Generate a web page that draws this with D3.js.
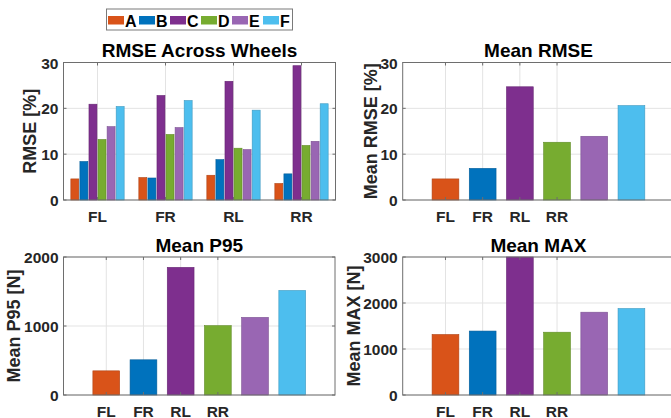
<!DOCTYPE html>
<html lang="en">
<head>
    <meta charset="UTF-8">
    <title>RMSE / P95 / MAX per wheel</title>
    <style>
        body { margin: 0; background: #fff; }
        svg { display: block; font-family: "Liberation Sans", Arial, sans-serif; font-weight: bold; }
        .tick-label { font-size: 15.5px; fill: #262626; }
        .x-label { font-size: 15.5px; fill: #262626; text-anchor: middle; }
        .axis-title { font-size: 18px; fill: #262626; text-anchor: middle; }
        .chart-title { font-size: 19px; fill: #000; text-anchor: middle; }
        .grid line { stroke: #e3e3e3; stroke-width: 1px; }
        .frame { fill: none; stroke: #6e6e6e; stroke-width: 1px; }
    </style>
</head>
<body>
    <svg id="chart" width="671" height="418"></svg>

    <script src="https://d3js.org/d3.v7.min.js"></script>
    <script>
        // --- Data ---
        const series = ["A", "B", "C", "D", "E", "F"];
        const seriesColors = ["#D95319", "#0072BD", "#7E2F8E", "#77AC30", "#9966B3", "#4DBEEE"];
        const wheels = ["FL", "FR", "RL", "RR"];

        // RMSE [%] per wheel, one value per series A..F
        const rmseFL = [4.6, 8.4, 20.9, 13.2, 16.0, 20.4];
        const rmseFR = [4.9, 4.8, 22.8, 14.3, 15.8, 21.7];
        const rmseRL = [5.4, 8.8, 25.9, 11.3, 11.0, 19.6];
        const rmseRR = [3.6, 5.7, 29.3, 11.9, 12.8, 21.0];

        const meanRmse = [4.6, 6.9, 24.7, 12.6, 13.9, 20.6];
        const meanP95 = [350, 510, 1850, 1005, 1125, 1515];
        const meanMax = [1315, 1390, 3000, 1365, 1800, 1880];

        const rmseTicks = [0, 10, 20, 30];
        const p95Ticks = [0, 1000, 2000];
        const maxTicks = [0, 1000, 2000, 3000];

        const svg = d3.select("#chart");

        // draws the frame pieces shared by all four panels
        function drawPanel(box, x, y, xTicks, yTicks, title, ylabel, ylabelX) {
            const g = svg.append("g");
            // grid
            const grid = g.append("g").attr("class", "grid");
            grid.selectAll(".gx").data(xTicks).enter().append("line")
                .attr("x1", d => x(d)).attr("x2", d => x(d))
                .attr("y1", box.top).attr("y2", box.bottom);
            grid.selectAll(".gy").data(yTicks).enter().append("line")
                .attr("x1", box.left).attr("x2", box.right)
                .attr("y1", d => y(d)).attr("y2", d => y(d));

            const bars = g.append("g");

            const frame = g.append("g");
            frame.append("rect").attr("class", "frame")
                .attr("x", box.left).attr("y", box.top)
                .attr("width", box.right - box.left).attr("height", box.bottom - box.top);
            // inward ticks, mirrored on the opposite side
            frame.selectAll(".ty").data(yTicks).enter().append("path")
                .attr("class", "frame")
                .attr("d", d => `M${box.left},${y(d)}h3M${box.right},${y(d)}h-3`);
            frame.selectAll(".tx").data(xTicks).enter().append("path")
                .attr("class", "frame")
                .attr("d", d => `M${x(d)},${box.bottom}v-3M${x(d)},${box.top}v3`);

            // y tick labels
            g.selectAll(".yl").data(yTicks).enter().append("text")
                .attr("class", "tick-label")
                .attr("x", box.left - 5).attr("y", d => y(d) + 6)
                .attr("text-anchor", "end")
                .text(d => d);
            // x tick labels
            g.selectAll(".xl").data(xTicks).enter().append("text")
                .attr("class", "x-label")
                .attr("x", d => x(d)).attr("y", box.bottom + 21.5)
                .text((d, i) => wheels[i]);

            g.append("text").attr("class", "chart-title")
                .attr("x", (box.left + box.right) / 2).attr("y", box.top - 5.5)
                .text(title);
            g.append("text").attr("class", "axis-title")
                .attr("transform", `translate(${ylabelX},${(box.top + box.bottom) / 2}) rotate(-90)`)
                .text(ylabel);
            return bars;
        }

        function barEdge(c) {
            return d3.color(c).darker(0.6);
        }

        // --- Panel 1: grouped RMSE across wheels ---
        const box1 = { left: 63.5, right: 335.5, top: 62.5, bottom: 200 };
        const x1 = d3.scaleLinear().domain([0.5, 4.5]).range([box1.left, box1.right]);
        const y1 = d3.scaleLinear().domain([0, 30]).range([box1.bottom, box1.top]);
        const sub = d3.scaleBand().domain(series).range([-0.4, 0.4]).paddingInner(0.12).paddingOuter(0.06);
        const rmseRows = [rmseFL, rmseFR, rmseRL, rmseRR];
        const bars1 = drawPanel(box1, x1, y1, [1, 2, 3, 4], rmseTicks, "RMSE Across Wheels", "RMSE [%]", 36);
        rmseRows.forEach((row, wi) => {
            bars1.selectAll(null).data(row).enter().append("rect")
                .attr("x", (d, i) => x1(wi + 1 + sub(series[i])))
                .attr("width", x1(sub.bandwidth()) - x1(0))
                .attr("y", d => y1(d))
                .attr("height", d => y1(0) - y1(d))
                .attr("fill", (d, i) => seriesColors[i])
                .attr("stroke", (d, i) => barEdge(seriesColors[i]))
                .attr("stroke-width", 0.6);
        });

        // --- Panels 2-4: one bar per series ---
        function simplePanel(box, values, yMax, ticks, title, ylabel, ylabelX) {
            const x = d3.scaleLinear().domain([-0.15, 7.15]).range([box.left, box.left + 271.5]);
            const y = d3.scaleLinear().domain([0, yMax]).range([box.bottom, box.top]);
            const bars = drawPanel(box, x, y, [1, 2, 3, 4], ticks, title, ylabel, ylabelX);
            const bw = 0.72;
            bars.selectAll(null).data(values).enter().append("rect")
                .attr("x", (d, i) => x(i + 1 - bw / 2))
                .attr("width", x(bw) - x(0))
                .attr("y", d => y(Math.min(d, yMax)))
                .attr("height", d => y(0) - y(Math.min(d, yMax)))
                .attr("fill", (d, i) => seriesColors[i])
                .attr("stroke", (d, i) => barEdge(seriesColors[i]))
                .attr("stroke-width", 0.6);
        }

        simplePanel({ left: 402.7, right: 674.2, top: 62.5, bottom: 200 }, meanRmse, 30, rmseTicks,
            "Mean RMSE", "Mean RMSE [%]", 377);
        simplePanel({ left: 63.5, right: 335, top: 257, bottom: 395 }, meanP95, 2000, p95Ticks,
            "Mean P95", "Mean P95 [N]", 20);
        simplePanel({ left: 402.7, right: 674.2, top: 257, bottom: 395 }, meanMax, 3000, maxTicks,
            "Mean MAX", "Mean MAX [N]", 360);

        // --- Legend ---
        const legend = svg.append("g");
        legend.append("rect")
            .attr("x", 106.5).attr("y", 9).attr("width", 186).attr("height", 21)
            .attr("fill", "#fff").attr("stroke", "#7a7a7a").attr("stroke-width", 1);
        const lx = d3.scalePoint().domain(series).range([108, 263]);
        const item = legend.selectAll(".item").data(series).enter().append("g")
            .attr("transform", d => `translate(${lx(d)},0)`);
        item.append("rect")
            .attr("x", 0).attr("y", 16).attr("width", 16).attr("height", 8.5)
            .attr("fill", (d, i) => seriesColors[i]);
        item.append("text")
            .attr("x", 17).attr("y", 26.5)
            .style("font-size", "16px").attr("fill", "#000")
            .text(d => d);
    </script>
</body>
</html>
